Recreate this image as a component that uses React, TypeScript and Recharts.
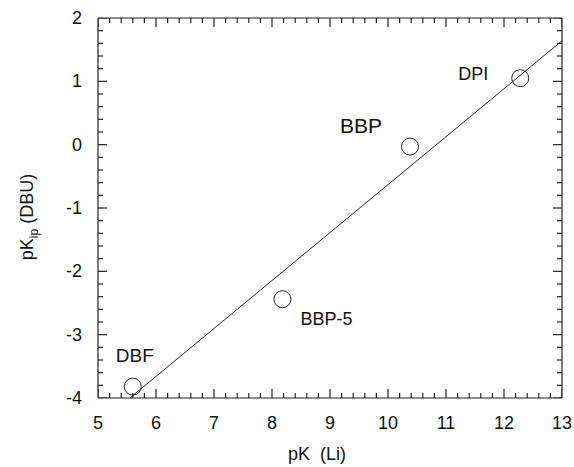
import React from 'react';
import { ScatterChart, Scatter, XAxis, YAxis } from 'recharts';

// ---- data ----
const compounds = ['DBF', 'BBP-5', 'BBP', 'DPI'];
const pkLi = [5.6, 8.18, 10.38, 12.28];
const pkIp = [-3.82, -2.44, -0.03, 1.05];

const fitX = [5.55, 13];
const fitY = [-4, 1.64];

const xMajorTicks = [5, 6, 7, 8, 9, 10, 11, 12, 13];
const yMajorTicks = [-4, -3, -2, -1, 0, 1, 2];
const minorDivisions = 5;

// ---- derived tables ----
const subdivide = (majors: number[], n: number) => {
  const out: number[] = [];
  for (let i = 0; i < majors.length; i++) {
    out.push(majors[i]);
    if (i < majors.length - 1) {
      const step = (majors[i + 1] - majors[i]) / n;
      for (let k = 1; k < n; k++) out.push(+(majors[i] + k * step).toFixed(4));
    }
  }
  return out;
};
const xTicks = subdivide(xMajorTicks, minorDivisions);
const yTicks = subdivide(yMajorTicks, minorDivisions);
const xMin = xMajorTicks[0];
const xMax = xMajorTicks[xMajorTicks.length - 1];
const yMin = yMajorTicks[0];
const yMax = yMajorTicks[yMajorTicks.length - 1];

const isMajor = (v: number) => Math.abs(v - Math.round(v)) < 1e-6;

const points = compounds.map((name, i) => ({ name, x: pkLi[i], y: pkIp[i] }));
const fitLine = fitX.map((x, i) => ({ x, y: fitY[i] }));

// tick marks as marks on the frame, placed through the chart's scales
const bottomMarks = xTicks.map((x) => ({ x, y: yMin, major: isMajor(x) }));
const topMarks = xTicks.map((x) => ({ x, y: yMax, major: isMajor(x) }));
const leftMarks = yTicks.map((y) => ({ x: xMin, y, major: isMajor(y) }));
const rightMarks = yTicks.map((y) => ({ x: xMax, y, major: isMajor(y) }));

// ---- styles ----
const FONT = "'Liberation Sans', Arial, Helvetica, sans-serif";
const INK = '#222';
const MAJOR_LEN = 9;
const MINOR_LEN = 5;
const labelStyle: Record<string, { dx: number; dy: number; size: number }> = {
  DBF: { dx: 2, dy: -31, size: 19 },
  'BBP-5': { dx: 44, dy: 20, size: 18 },
  BBP: { dx: -49, dy: -21, size: 21 },
  DPI: { dx: -47, dy: -4, size: 18 },
};

const markShape = (dir: 'up' | 'down' | 'right' | 'left') => (p: any) => {
  const len = p.payload.major ? MAJOR_LEN : MINOR_LEN;
  const dx = dir === 'right' ? len : dir === 'left' ? -len : 0;
  const dy = dir === 'down' ? len : dir === 'up' ? -len : 0;
  return <line x1={p.cx} y1={p.cy} x2={p.cx + dx} y2={p.cy + dy} stroke={INK} strokeWidth={1.2} />;
};

const BottomTick = (p: any) => {
  const v = Number(p.payload.value);
  if (!isMajor(v)) return <g />;
  return (
    <text x={p.x} y={p.y + 31} textAnchor="middle" fontSize={18} fontFamily={FONT} fill="#111">
      {String(Math.round(v))}
    </text>
  );
};
const LeftTick = (p: any) => {
  const v = Number(p.payload.value);
  if (!isMajor(v)) return <g />;
  return (
    <text x={p.x - 16} y={p.y + 6} textAnchor="end" fontSize={18} fontFamily={FONT} fill="#111">
      {String(Math.round(v))}
    </text>
  );
};

const XTitle = (p: any) => {
  const vb = p.viewBox;
  return (
    <text x={vb.x + vb.width / 2 - 13} y={vb.y + 62} textAnchor="middle" fontSize={18} fontFamily={FONT} fill="#111">
      {'pK\u00a0\u00a0(Li)'}
    </text>
  );
};
const YTitle = (p: any) => {
  const vb = p.viewBox;
  const x = vb.x + 33;
  const y = vb.y + vb.height / 2 + 9;
  return (
    <text x={x} y={y} transform={`rotate(-90, ${x}, ${y})`} textAnchor="middle" fontSize={18} fontFamily={FONT} fill="#111">
      pK
      <tspan dy={5} fontSize={12}>ip</tspan>
      <tspan dy={-5}>{'\u00a0(DBU)'}</tspan>
    </text>
  );
};

const PointShape = (p: any) => {
  const s = labelStyle[p.payload.name];
  return (
    <g>
      <circle cx={p.cx} cy={p.cy} r={8.5} fill="none" stroke={INK} strokeWidth={1} />
      <text
        x={p.cx + s.dx}
        y={p.cy + s.dy}
        textAnchor="middle"
        dominantBaseline="central"
        fontSize={s.size}
        fontFamily={FONT}
        fill="#111"
      >
        {p.payload.name}
      </text>
    </g>
  );
};

const axisCommon = {
  type: 'number' as const,
  allowDataOverflow: true,
  interval: 0 as const,
  tickSize: 0,
  tickMargin: 0,
  tickLine: false,
  axisLine: { stroke: INK, strokeWidth: 1.2 },
};

export default function App() {
  return (
    <div style={{ position: 'absolute', left: 0, top: 0, background: '#fff' }}>
      <ScatterChart width={574} height={467} margin={{ top: 17, right: 11, bottom: 0, left: 0 }}>
        <XAxis
          {...axisCommon}
          xAxisId="bottom"
          dataKey="x"
          orientation="bottom"
          domain={[xMin, xMax]}
          ticks={xTicks}
          tick={BottomTick}
          height={69}
          label={<XTitle />}
        />
        <XAxis
          {...axisCommon}
          xAxisId="top"
          dataKey="x"
          orientation="top"
          domain={[xMin, xMax]}
          ticks={xMajorTicks}
          tick={false}
          height={1}
        />
        <YAxis
          {...axisCommon}
          yAxisId="left"
          dataKey="y"
          orientation="left"
          domain={[yMin, yMax]}
          ticks={yTicks}
          tick={LeftTick}
          width={98}
          label={<YTitle />}
        />
        <YAxis
          {...axisCommon}
          yAxisId="right"
          dataKey="y"
          orientation="right"
          domain={[yMin, yMax]}
          ticks={yMajorTicks}
          tick={false}
          width={1}
        />
        <Scatter xAxisId="bottom" yAxisId="left" data={bottomMarks} shape={markShape('up')} isAnimationActive={false} />
        <Scatter xAxisId="bottom" yAxisId="left" data={topMarks} shape={markShape('down')} isAnimationActive={false} />
        <Scatter xAxisId="bottom" yAxisId="left" data={leftMarks} shape={markShape('right')} isAnimationActive={false} />
        <Scatter xAxisId="bottom" yAxisId="left" data={rightMarks} shape={markShape('left')} isAnimationActive={false} />
        <Scatter
          xAxisId="bottom"
          yAxisId="left"
          data={fitLine}
          line={{ stroke: INK, strokeWidth: 1 }}
          shape={() => <g />}
          isAnimationActive={false}
        />
        <Scatter
          xAxisId="bottom"
          yAxisId="left"
          data={points}
          shape={PointShape}
          isAnimationActive={false}
        />
      </ScatterChart>
    </div>
  );
}
